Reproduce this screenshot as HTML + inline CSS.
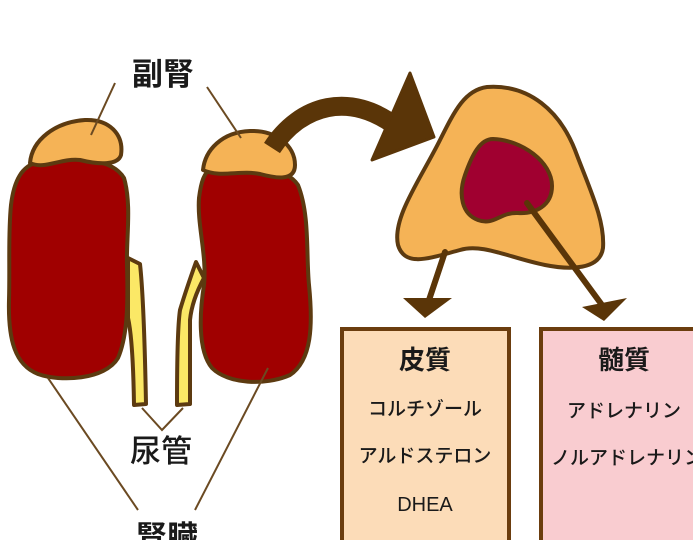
<!DOCTYPE html>
<html><head><meta charset="utf-8"><style>
html,body{margin:0;padding:0;background:#fff;width:693px;height:540px;overflow:hidden}
svg{display:block}
text{font-family:"Liberation Sans","Noto Sans CJK JP",sans-serif;fill:#1a1a1a}
</style></head><body>
<svg width="693" height="540" viewBox="0 0 693 540" xmlns="http://www.w3.org/2000/svg">
<g stroke="#5c3a10" stroke-width="4" stroke-linejoin="round">
<!-- ureters -->
<path d="M128,258 L140,264 Q144,300 146,404 L134,405 Q133,340 128,318 Z" fill="#fbe866"/>
<path d="M196,262 L204,278 Q192,300 190,320 L190,404 L177,405 Q177,330 180,310 Q186,290 196,262 Z" fill="#fbe866"/>
<!-- kidneys -->
<path d="M38,162 C75,156 112,158 124,178 C132,205 126,240 127,265 C128,300 128,335 118,358 C105,380 60,382 38,374 C15,365 8,340 9,300 C10,265 8,235 11,205 C14,180 22,166 38,162 Z" fill="#a00000"/>
<path d="M212,168 C245,162 285,166 298,185 C310,215 306,255 309,285 C313,325 312,360 290,375 C265,386 228,384 212,368 C197,350 200,310 204,285 C207,255 197,225 199,198 C201,182 204,172 212,168 Z" fill="#a00000"/>
<!-- adrenals -->
<path d="M30,163 C32,140 55,122 85,120 C110,119 124,135 121,155 C118,165 100,165 80,160 C60,158 45,170 30,163 Z" fill="#f5b356"/>
<path d="M203,170 C205,150 222,132 250,131 C275,130 295,145 295,165 C295,182 275,178 260,174 C240,170 220,178 203,170 Z" fill="#f5b356"/>
</g>
<!-- label lines -->
<g stroke="#6b4a22" stroke-width="2" fill="none">
<line x1="115" y1="83" x2="91" y2="135"/>
<line x1="207" y1="87" x2="241" y2="138"/>
<polyline points="142,408 162,430 183,408"/>
<line x1="48" y1="378" x2="138" y2="510"/>
<line x1="268" y1="368" x2="195" y2="510"/>
</g>
<!-- curved arrow -->
<path d="M272,148 C300,105 350,90 398,128" stroke="#5a3508" stroke-width="19" fill="none" stroke-linecap="butt"/>
<polygon points="410,73 434,137 372,160" fill="#5a3508" stroke="#5a3508" stroke-width="3" stroke-linejoin="round"/>
<!-- adrenal cross section -->
<path d="M487,87 C530,84 560,112 575,150 C590,190 605,220 603,248 C600,270 570,270 545,265 C510,258 482,243 460,250 C430,258 405,268 398,245 C392,218 420,180 440,140 C455,110 465,90 487,87 Z" fill="#f5b356" stroke="#5c3a10" stroke-width="4"/>
<path d="M493,139 C522,140 552,162 552,186 C552,206 535,214 518,213 C500,212 494,226 478,220 C462,214 458,195 465,175 C472,155 480,139 493,139 Z" fill="#a00030" stroke="#5c3a10" stroke-width="4"/>
<g stroke="#5a3508" stroke-width="6" stroke-linecap="round">
<line x1="445" y1="252" x2="429" y2="300"/>
<line x1="527" y1="203" x2="602" y2="305"/>
</g>
<polygon points="403,298 452,298 425,318" fill="#5a3508"/>
<polygon points="582,307 627,298 604,321" fill="#5a3508"/>
<!-- boxes -->
<rect x="342" y="329" width="167" height="220" fill="#fcdcb8" stroke="#6b3d0e" stroke-width="4"/>
<rect x="541" y="329" width="170" height="220" fill="#f9ccd0" stroke="#6b3d0e" stroke-width="4"/>
<!-- text -->
<text x="163" y="85" font-size="31" font-weight="bold" text-anchor="middle">副腎</text>
<text x="161" y="462" font-size="31" font-weight="500" text-anchor="middle">尿管</text>
<text x="167" y="548" font-size="31" font-weight="bold" text-anchor="middle">腎臓</text>
<text x="425" y="369" font-size="26" font-weight="bold" text-anchor="middle">皮質</text>
<text x="425" y="415" font-size="19" font-weight="500" text-anchor="middle">コルチゾール</text>
<text x="425" y="462" font-size="19" font-weight="500" text-anchor="middle">アルドステロン</text>
<text x="425" y="511" font-size="20" font-weight="500" text-anchor="middle">DHEA</text>
<text x="624" y="369" font-size="26" font-weight="bold" text-anchor="middle">髄質</text>
<text x="624" y="417" font-size="19" font-weight="500" text-anchor="middle">アドレナリン</text>
<text x="551" y="464" font-size="19" font-weight="500">ノルアドレナリン</text>
</svg>
</body></html>
